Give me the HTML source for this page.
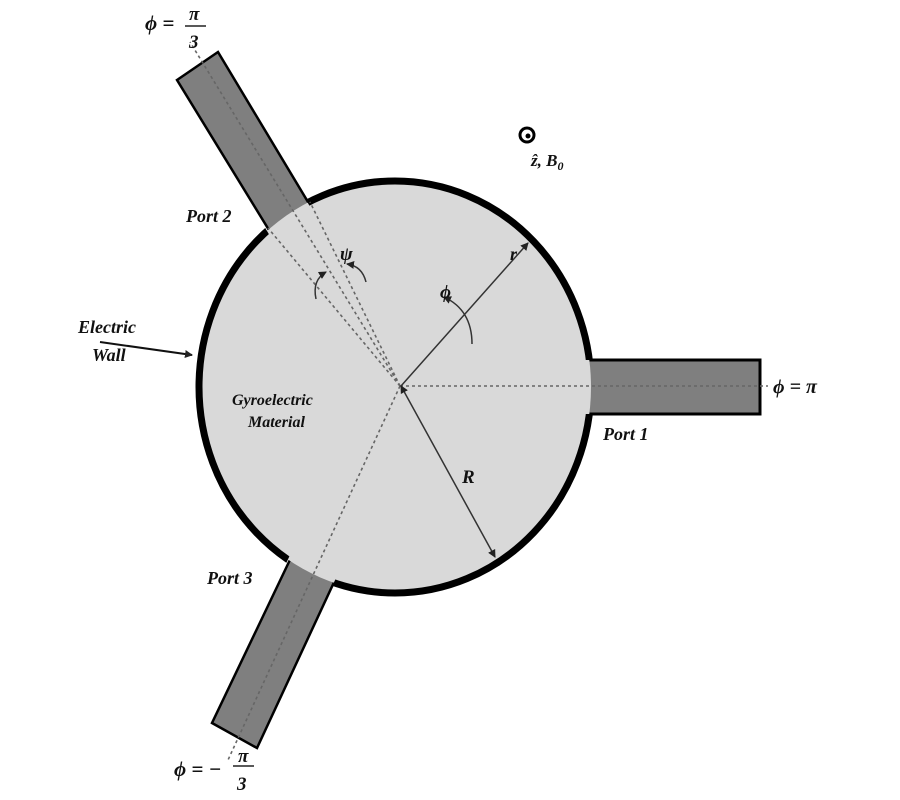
<!DOCTYPE html>
<html><head><meta charset="utf-8"><style>
html,body{margin:0;padding:0;background:#fff;}
svg{display:block;}
text{font-family:"Liberation Serif",serif;font-weight:bold;font-style:italic;fill:#111;}
</style></head><body>
<svg width="900" height="800" viewBox="0 0 900 800" xmlns="http://www.w3.org/2000/svg">
<defs>
<mask id="m">
<rect x="0" y="0" width="900" height="800" fill="#fff"/>
<polygon points="177,80 218,52 312,210 270,236" fill="#000"/>
<polygon points="212,723 257,748 336,578 290,555" fill="#000"/>
<rect x="560" y="360" width="200" height="54" fill="#000"/>
</mask>
<marker id="ah" markerWidth="8" markerHeight="8" refX="7" refY="4" orient="auto-start-reverse" markerUnits="userSpaceOnUse">
<path d="M0,0 L8,4 L0,8 z" fill="#222"/>
</marker>
</defs>
<polygon points="177,80 218,52 320,222 280,248" fill="#7f7f7f" stroke="#000" stroke-width="2.5"/>
<polygon points="212,723 257,748 342,565 298,543" fill="#7f7f7f" stroke="#000" stroke-width="2.5"/>
<rect x="560" y="360" width="200" height="54" fill="#7f7f7f" stroke="#000" stroke-width="3"/>
<ellipse cx="395" cy="387" rx="196" ry="206" fill="#d9d9d9"/>
<ellipse cx="395" cy="387" rx="196" ry="206" fill="none" stroke="#000" stroke-width="7" mask="url(#m)"/>
<g stroke="#666" stroke-width="1.6" stroke-dasharray="3,3" fill="none">
<line x1="400" y1="386" x2="768" y2="386"/>
<line x1="400" y1="386" x2="190" y2="42"/>
<line x1="400" y1="386" x2="268" y2="228"/>
<line x1="400" y1="386" x2="310" y2="202"/>
<line x1="400" y1="386" x2="228" y2="760"/>
</g>
<line x1="401" y1="386" x2="528" y2="243" stroke="#333" stroke-width="1.5" marker-end="url(#ah)"/>
<line x1="401" y1="386" x2="495" y2="557" stroke="#333" stroke-width="1.5" marker-start="url(#ah)" marker-end="url(#ah)"/>
<path d="M472,344 Q472,310 444,297" fill="none" stroke="#333" stroke-width="1.5" marker-end="url(#ah)"/>
<path d="M366,282 Q362,266 347,264" fill="none" stroke="#333" stroke-width="1.5" marker-end="url(#ah)"/>
<path d="M316,299 Q312,280 326,272" fill="none" stroke="#333" stroke-width="1.5" marker-end="url(#ah)"/>
<line x1="100" y1="342" x2="192" y2="355" stroke="#111" stroke-width="2" marker-end="url(#ah)"/>
<circle cx="527" cy="135" r="7" fill="none" stroke="#000" stroke-width="3"/>
<circle cx="528" cy="136" r="2.5" fill="#000"/>
<text x="145" y="30" font-size="21">ϕ =</text>
<text x="189" y="20" font-size="19">π</text>
<line x1="185" y1="26" x2="206" y2="26" stroke="#222" stroke-width="1.5"/>
<text x="189" y="48" font-size="19" font-style="normal">3</text>
<text x="186" y="222" font-size="18">Port 2</text>
<text x="78" y="333" font-size="18">Electric</text>
<text x="92" y="361" font-size="18">Wall</text>
<text x="232" y="405" font-size="16">Gyroelectric</text>
<text x="248" y="427" font-size="16">Material</text>
<text x="510" y="260" font-size="18">r</text>
<text x="340" y="260" font-size="19">ψ</text>
<text x="440" y="298" font-size="19">ϕ</text>
<text x="462" y="483" font-size="19">R</text>
<text x="531" y="166" font-size="17">ẑ, B<tspan font-size="12" dy="4">0</tspan></text>
<text x="603" y="440" font-size="18">Port 1</text>
<text x="773" y="393" font-size="20">ϕ = π</text>
<text x="207" y="584" font-size="18">Port 3</text>
<text x="174" y="776" font-size="21">ϕ = −</text>
<text x="238" y="762" font-size="19">π</text>
<line x1="233" y1="766" x2="254" y2="766" stroke="#222" stroke-width="1.5"/>
<text x="237" y="790" font-size="19" font-style="normal">3</text>
</svg>
</body></html>
